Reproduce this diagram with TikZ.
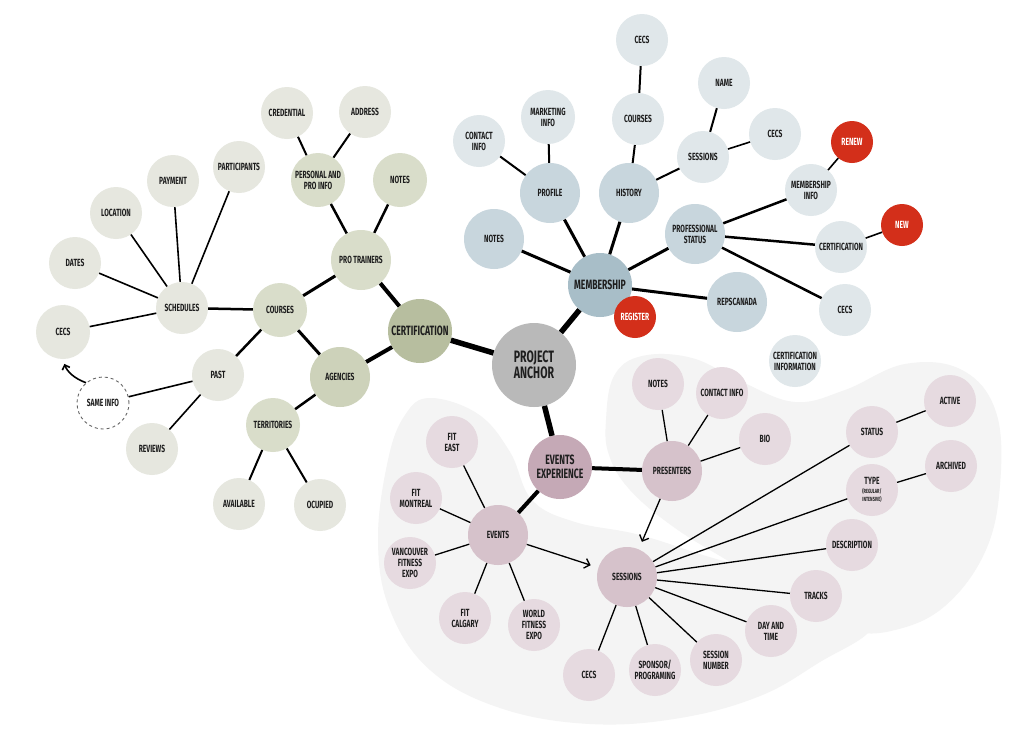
\documentclass[tikz,border=0pt]{standalone}
\usepackage{fontspec}
\setmainfont{Fira Sans}[FakeStretch=0.64]
\usetikzlibrary{arrows.meta}
\definecolor{gA}{HTML}{E6E7DF}
\definecolor{gB}{HTML}{D9DDCA}
\definecolor{gC}{HTML}{CDD2BA}
\definecolor{gD}{HTML}{B7BE9F}
\definecolor{bA}{HTML}{E0E7EA}
\definecolor{bB}{HTML}{C8D6DD}
\definecolor{bC}{HTML}{A8BEC8}
\definecolor{pA}{HTML}{E6DAE0}
\definecolor{pB}{HTML}{D6C2CB}
\definecolor{pC}{HTML}{C5A9B6}
\definecolor{redn}{HTML}{D32F1A}
\definecolor{anc}{HTML}{B9B9B9}
\definecolor{blob}{HTML}{F4F4F4}
\definecolor{txt}{HTML}{1E1E1E}
\newcommand\lblfont{\bfseries\fontsize{10.4}{11}\selectfont}
\newcommand\bigfont{\bfseries\fontsize{13.5}{13.5}\selectfont}
\newcommand\ancfont{\bfseries\fontsize{16.5}{16.5}\selectfont}
\tikzset{
  base/.style={circle, inner sep=0pt, align=center, text=txt, font=\lblfont},
  leaf/.style={base, minimum size=52pt},
  mid/.style={base, minimum size=54pt},
  hub/.style={base, minimum size=60pt},
  major/.style={base, minimum size=64pt, font=\bigfont},
  rednode/.style={base, minimum size=42pt, fill=redn, text=white},
  e55/.style={line width=5.5pt},
  e4/.style={line width=4pt},
  e3/.style={line width=3pt},
  e25/.style={line width=2.5pt},
  e2/.style={line width=2pt},
  e16/.style={line width=1.6pt},
  e13/.style={line width=1.3pt},
  arr/.style={e13, -{Straight Barb[length=5pt,width=10pt]}, shorten >=8pt}
}
\begin{document}
\begin{tikzpicture}[x=1pt, y=-1pt]
\useasboundingbox[fill=white] (0,0) rectangle (1027,732);
% background blobs
\fill[blob] plot[smooth cycle, tension=0.65] coordinates {(430,398) (478,414) (510,452) (532,500) (575,522) (640,535) (720,560) (800,578) (862,592) (872,628) (820,662) (760,696) (680,718) (590,724) (500,708) (430,670) (390,610) (378,540) (388,460) (405,415)};
\fill[blob] plot[smooth cycle, tension=0.65] coordinates {(606,420) (614,376) (642,356) (692,358) (742,382) (795,402) (845,390) (905,364) (962,370) (996,412) (1000,485) (985,552) (945,606) (895,630) (848,630) (795,602) (735,565) (675,528) (630,490) (609,455)};

% center
\node[base, minimum size=84pt, fill=anc, font=\ancfont] (anchor) at (534,365) {PROJECT\\ANCHOR};

% green branch
\node[major, fill=gD] (cert) at (420,331) {CERTIFICATION};
\node[hub, fill=gB] (protr) at (361,260) {PRO TRAINERS};
\node[mid, fill=gB] (courses) at (280,310) {COURSES};
\node[hub, fill=gC] (agen) at (340,377) {AGENCIES};
\node[mid, fill=gB] (pers) at (318,180) {PERSONAL AND\\PRO INFO};
\node[leaf, fill=gA] (cred) at (287,113) {CREDENTIAL};
\node[leaf, fill=gA] (addr) at (365,112) {ADDRESS};
\node[mid, fill=gB] (gnotes) at (400,180) {NOTES};
\node[mid, fill=gB] (terr) at (273,425) {TERRITORIES};
\node[leaf, fill=gA] (avail) at (239,504) {AVAILABLE};
\node[leaf, fill=gA] (ocup) at (320,505) {OCUPIED};
\node[leaf, fill=gA] (sched) at (182,308) {SCHEDULES};
\node[leaf, fill=gA] (past) at (218,375) {PAST};
\node[leaf, fill=gA] (part) at (239,167) {PARTICIPANTS};
\node[leaf, fill=gA] (pay) at (173,181) {PAYMENT};
\node[leaf, fill=gA] (loc) at (116,213) {LOCATION};
\node[leaf, fill=gA] (dates) at (75,263) {DATES};
\node[mid, fill=gA] (gcecs) at (63,332) {CECS};
\node[leaf, fill=white, draw=black!60, dashed, line width=0.9pt] (same) at (103,403) {SAME INFO};
\node[leaf, fill=gA] (rev) at (152,449) {REVIEWS};

% blue branch
\node[major, fill=bC] (memb) at (600,285) {MEMBERSHIP};
\node[hub, fill=bB] (bnotes) at (494,239) {NOTES};
\node[hub, fill=bB] (prof) at (550,193) {PROFILE};
\node[hub, fill=bB] (hist) at (629,193) {HISTORY};
\node[leaf, fill=bA] (bcont) at (479,141) {CONTACT\\INFO};
\node[mid, fill=bA] (mkt) at (548,117) {MARKETING\\INFO};
\node[leaf, fill=bA] (bcour) at (638,119) {COURSES};
\node[leaf, fill=bA] (bcecs1) at (642,40) {CECS};
\node[leaf, fill=bA] (name) at (724,83) {NAME};
\node[leaf, fill=bA] (bsess) at (703,157) {SESSIONS};
\node[leaf, fill=bA] (bcecs2) at (775,134) {CECS};
\node[hub, fill=bB] (pstat) at (695,234) {PROFESSIONAL\\STATUS};
\node[hub, fill=bB] (reps) at (737,302) {REPSCANADA};
\node[leaf, fill=bA] (minfo) at (811,190) {MEMBERSHIP\\INFO};
\node[rednode] (renew) at (852,142) {RENEW};
\node[leaf, fill=bA] (bcert) at (841,247) {CERTIFICATION};
\node[rednode] (new) at (902,225) {NEW};
\node[leaf, fill=bA] (bcecs3) at (845,310) {CECS};
\node[leaf, fill=bA] (certinfo) at (795,361) {CERTIFICATION\\INFORMATION};

% pink branch
\node[major, fill=pC] (ee) at (560,467) {EVENTS\\EXPERIENCE};
\node[hub, fill=pB] (pres) at (672,471) {PRESENTERS};
\node[leaf, fill=pA] (pnotes) at (658,384) {NOTES};
\node[leaf, fill=pA] (pcont) at (722,393) {CONTACT INFO};
\node[leaf, fill=pA] (bio) at (765,439) {BIO};
\node[hub, fill=pB] (events) at (498,535) {EVENTS};
\node[leaf, fill=pA] (fiteast) at (452,442) {FIT\\EAST};
\node[leaf, fill=pA] (fitmon) at (416,498) {FIT\\MONTREAL};
\node[leaf, fill=pA] (vanc) at (410,563) {VANCOUVER\\FITNESS\\EXPO};
\node[leaf, fill=pA] (fitcal) at (465,618) {FIT\\CALGARY};
\node[leaf, fill=pA] (world) at (534,625) {WORLD\\FITNESS\\EXPO};
\node[hub, fill=pB] (psess) at (627,577) {SESSIONS};
\node[leaf, fill=pA] (status) at (872,432) {STATUS};
\node[leaf, fill=pA] (active) at (950,401) {ACTIVE};
\node[leaf, fill=pA] (type) at (872,490) {TYPE\\[-2pt]{\fontsize{6}{6.5}\selectfont (REGULAR/}\\[-3pt]{\fontsize{6}{6.5}\selectfont INTENSIVE)}};
\node[leaf, fill=pA] (arch) at (951,466) {ARCHIVED};
\node[leaf, fill=pA] (desc) at (852,545) {DESCRIPTION};
\node[leaf, fill=pA] (tracks) at (816,596) {TRACKS};
\node[leaf, fill=pA] (daytime) at (771,631) {DAY AND\\TIME};
\node[leaf, fill=pA] (sessnum) at (716,660) {SESSION\\NUMBER};
\node[leaf, fill=pA] (spons) at (655,670) {SPONSOR/\\PROGRAMING};
\node[leaf, fill=pA] (pcecs) at (589,675) {CECS};

\node[rednode] (reg) at (635,317) {REGISTER};

% connectors
\draw[e55] (anchor) -- (cert);
\draw[e55] (anchor) -- (memb);
\draw[e55] (anchor) -- (ee);

\draw[e4] (cert) -- (protr);
\draw[e4] (cert) -- (agen);
\draw[e3] (protr) -- (courses);
\draw[e3] (courses) -- (agen);
\draw[e25] (protr) -- (pers);
\draw[e25] (protr) -- (gnotes);
\draw[e25] (agen) -- (terr);
\draw[e25] (courses) -- (past);
\draw[e25] (courses) -- (sched);
\draw[e2] (pers) -- (cred);
\draw[e2] (pers) -- (addr);
\draw[e2] (terr) -- (avail);
\draw[e2] (terr) -- (ocup);
\draw[e16] (sched) -- (part);
\draw[e16] (sched) -- (pay);
\draw[e16] (sched) -- (loc);
\draw[e16] (sched) -- (dates);
\draw[e16] (sched) -- (gcecs);
\draw[e16] (past) -- (same);
\draw[e16] (past) -- (rev);
\draw[e16, -{Straight Barb[length=4pt,width=8pt]}, shorten >=5pt] (same.130) to[bend left=25] (gcecs);

\draw[e3] (memb) -- (bnotes);
\draw[e3] (memb) -- (prof);
\draw[e3] (memb) -- (hist);
\draw[e3] (memb) -- (pstat);
\draw[e3] (memb) -- (reps);
\draw[e2] (prof) -- (bcont);
\draw[e2] (prof) -- (mkt);
\draw[e2] (hist) -- (bcour);
\draw[e2] (hist) -- (bsess);
\draw[e2] (bcour) -- (bcecs1);
\draw[e2] (bsess) -- (name);
\draw[e16] (bsess) -- (bcecs2);
\draw[e25] (pstat) -- (minfo);
\draw[e25] (pstat) -- (bcert);
\draw[e25] (pstat) -- (bcecs3);
\draw[e16] (minfo) -- (renew);
\draw[e16] (bcert) -- (new);

\draw[e4] (ee) -- (pres);
\draw[e4] (ee) -- (events);
\draw[e13] (pres) -- (pnotes);
\draw[e13] (pres) -- (pcont);
\draw[e13] (pres) -- (bio);
\draw[arr] (pres) -- (psess);
\draw[arr] (events) -- (psess);
\draw[e13] (events) -- (fiteast);
\draw[e13] (events) -- (fitmon);
\draw[e13] (events) -- (vanc);
\draw[e13] (events) -- (fitcal);
\draw[e13] (events) -- (world);
\draw[e13] (psess) -- (status);
\draw[e13] (psess) -- (type);
\draw[e13] (psess) -- (desc);
\draw[e13] (psess) -- (tracks);
\draw[e13] (psess) -- (daytime);
\draw[e13] (psess) -- (sessnum);
\draw[e13] (psess) -- (spons);
\draw[e13] (psess) -- (pcecs);
\draw[e13] (status) -- (active);
\draw[e13] (type) -- (arch);
\end{tikzpicture}
\end{document}
